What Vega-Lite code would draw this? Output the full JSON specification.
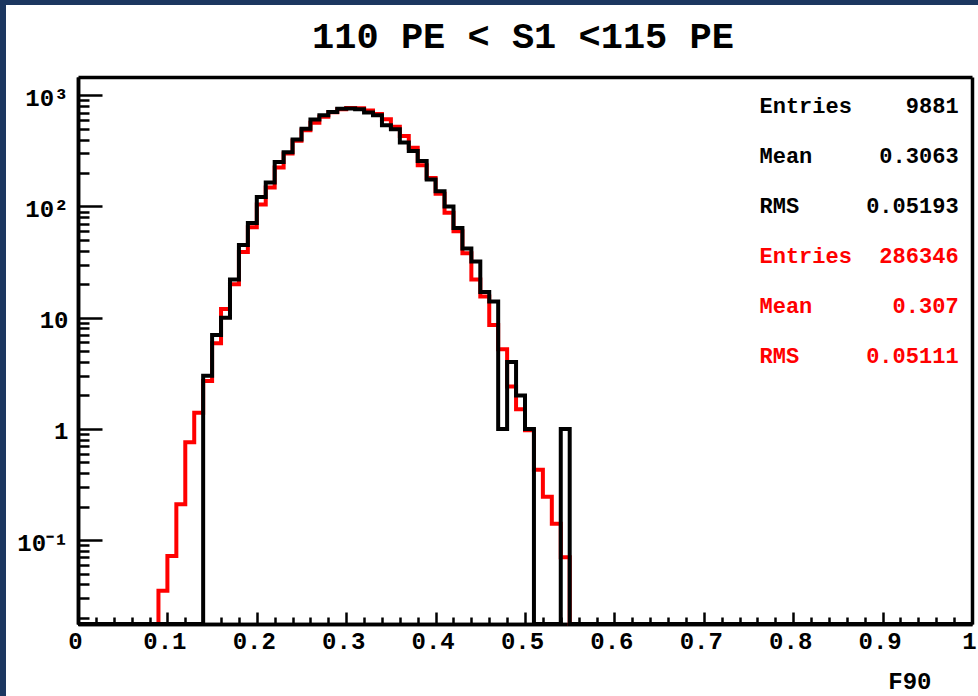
{
  "$schema": "https://vega.github.io/schema/vega-lite/v6.json",
  "width": 894,
  "height": 547,
  "autosize": {"type": "none"},
  "padding": {"left": 78, "top": 77, "right": 6, "bottom": 72},
  "background": "#1c3760",
  "config": {
    "view": {"fill": "white", "stroke": "white", "strokeWidth": 144},
    "font": "Liberation Mono"
  },
  "title": {
    "text": "110 PE < S1 <115 PE",
    "font": "Liberation Mono",
    "fontWeight": "bold",
    "fontSize": 37,
    "color": "black",
    "anchor": "middle",
    "frame": "group",
    "baseline": "alphabetic",
    "offset": -8,
    "dx": -2
  },
  "datasets": {
    "hist": [
      {"series": "ref", "f90": 0, "n": 0},
      {"series": "ref", "f90": 0.09, "n": 0.035},
      {"series": "ref", "f90": 0.10, "n": 0.072},
      {"series": "ref", "f90": 0.11, "n": 0.21},
      {"series": "ref", "f90": 0.12, "n": 0.76},
      {"series": "ref", "f90": 0.13, "n": 1.4},
      {"series": "ref", "f90": 0.14, "n": 2.7},
      {"series": "ref", "f90": 0.15, "n": 5.9},
      {"series": "ref", "f90": 0.16, "n": 12},
      {"series": "ref", "f90": 0.17, "n": 20},
      {"series": "ref", "f90": 0.18, "n": 39},
      {"series": "ref", "f90": 0.19, "n": 65},
      {"series": "ref", "f90": 0.20, "n": 104},
      {"series": "ref", "f90": 0.21, "n": 148},
      {"series": "ref", "f90": 0.22, "n": 224},
      {"series": "ref", "f90": 0.23, "n": 300},
      {"series": "ref", "f90": 0.24, "n": 390},
      {"series": "ref", "f90": 0.25, "n": 485},
      {"series": "ref", "f90": 0.26, "n": 565},
      {"series": "ref", "f90": 0.27, "n": 640},
      {"series": "ref", "f90": 0.28, "n": 705},
      {"series": "ref", "f90": 0.29, "n": 750},
      {"series": "ref", "f90": 0.30, "n": 768},
      {"series": "ref", "f90": 0.31, "n": 765},
      {"series": "ref", "f90": 0.32, "n": 730},
      {"series": "ref", "f90": 0.33, "n": 680},
      {"series": "ref", "f90": 0.34, "n": 610},
      {"series": "ref", "f90": 0.35, "n": 520},
      {"series": "ref", "f90": 0.36, "n": 430},
      {"series": "ref", "f90": 0.37, "n": 338},
      {"series": "ref", "f90": 0.38, "n": 235},
      {"series": "ref", "f90": 0.39, "n": 180},
      {"series": "ref", "f90": 0.40, "n": 130},
      {"series": "ref", "f90": 0.41, "n": 88},
      {"series": "ref", "f90": 0.42, "n": 60},
      {"series": "ref", "f90": 0.43, "n": 38},
      {"series": "ref", "f90": 0.44, "n": 22},
      {"series": "ref", "f90": 0.45, "n": 15.5},
      {"series": "ref", "f90": 0.46, "n": 8.6},
      {"series": "ref", "f90": 0.47, "n": 5.2},
      {"series": "ref", "f90": 0.48, "n": 2.4},
      {"series": "ref", "f90": 0.49, "n": 1.5},
      {"series": "ref", "f90": 0.50, "n": 0.97},
      {"series": "ref", "f90": 0.51, "n": 0.43},
      {"series": "ref", "f90": 0.52, "n": 0.245},
      {"series": "ref", "f90": 0.53, "n": 0.14},
      {"series": "ref", "f90": 0.54, "n": 0.07},
      {"series": "ref", "f90": 0.55, "n": 0},
      {"series": "ref", "f90": 1.0, "n": 0},
      {"series": "data", "f90": 0, "n": 0},
      {"series": "data", "f90": 0.14, "n": 3},
      {"series": "data", "f90": 0.15, "n": 7},
      {"series": "data", "f90": 0.16, "n": 10},
      {"series": "data", "f90": 0.17, "n": 22},
      {"series": "data", "f90": 0.18, "n": 45},
      {"series": "data", "f90": 0.19, "n": 71},
      {"series": "data", "f90": 0.20, "n": 122},
      {"series": "data", "f90": 0.21, "n": 164},
      {"series": "data", "f90": 0.22, "n": 251},
      {"series": "data", "f90": 0.23, "n": 308},
      {"series": "data", "f90": 0.24, "n": 401},
      {"series": "data", "f90": 0.25, "n": 500},
      {"series": "data", "f90": 0.26, "n": 605},
      {"series": "data", "f90": 0.27, "n": 660},
      {"series": "data", "f90": 0.28, "n": 708},
      {"series": "data", "f90": 0.29, "n": 757},
      {"series": "data", "f90": 0.30, "n": 760},
      {"series": "data", "f90": 0.31, "n": 750},
      {"series": "data", "f90": 0.32, "n": 700},
      {"series": "data", "f90": 0.33, "n": 660},
      {"series": "data", "f90": 0.34, "n": 537},
      {"series": "data", "f90": 0.35, "n": 494},
      {"series": "data", "f90": 0.36, "n": 377},
      {"series": "data", "f90": 0.37, "n": 315},
      {"series": "data", "f90": 0.38, "n": 256},
      {"series": "data", "f90": 0.39, "n": 175},
      {"series": "data", "f90": 0.40, "n": 137},
      {"series": "data", "f90": 0.41, "n": 100},
      {"series": "data", "f90": 0.42, "n": 64},
      {"series": "data", "f90": 0.43, "n": 42},
      {"series": "data", "f90": 0.44, "n": 32},
      {"series": "data", "f90": 0.45, "n": 17},
      {"series": "data", "f90": 0.46, "n": 14},
      {"series": "data", "f90": 0.47, "n": 1},
      {"series": "data", "f90": 0.48, "n": 4},
      {"series": "data", "f90": 0.49, "n": 2},
      {"series": "data", "f90": 0.50, "n": 1},
      {"series": "data", "f90": 0.51, "n": 0},
      {"series": "data", "f90": 0.52, "n": 0},
      {"series": "data", "f90": 0.53, "n": 0},
      {"series": "data", "f90": 0.54, "n": 1},
      {"series": "data", "f90": 0.55, "n": 0},
      {"series": "data", "f90": 1.0, "n": 0}
    ],
    "stats": [
      {"row": 1, "series": "data", "name": "Entries", "value": "9881"},
      {"row": 2, "series": "data", "name": "Mean", "value": "0.3063"},
      {"row": 3, "series": "data", "name": "RMS", "value": "0.05193"},
      {"row": 4, "series": "ref", "name": "Entries", "value": "286346"},
      {"row": 5, "series": "ref", "name": "Mean", "value": "0.307"},
      {"row": 6, "series": "ref", "name": "RMS", "value": "0.05111"}
    ]
  },
  "layer": [
    {
      "data": {"name": "hist"},
      "transform": [{"filter": "datum.series === 'ref'"}],
      "mark": {"type": "line", "interpolate": "step-after", "color": "#ff0000", "strokeWidth": 4, "strokeJoin": "miter", "invalid": "show"},
      "encoding": {
        "x": {
          "field": "f90", "type": "quantitative",
          "scale": {"domain": [0, 1], "nice": false, "zero": false},
          "axis": {
            "orient": "bottom",
            "values": [0, 0.1, 0.2, 0.3, 0.4, 0.5, 0.6, 0.7, 0.8, 0.9, 1],
            "format": "~g",
            "grid": false,
            "domainColor": "black", "domainWidth": 3.5,
            "tickColor": "black", "tickWidth": 2.5, "tickSize": -12,
            "labelFont": "Liberation Mono", "labelFontWeight": "bold", "labelFontSize": 24, "labelColor": "black",
            "labelFlush": false, "labelOverlap": false, "labelBound": false,
            "labelOffset": -3, "labelPadding": 17,
            "title": "F90",
            "titleFont": "Liberation Mono", "titleFontWeight": "bold", "titleFontSize": 24, "titleColor": "black",
            "titleAlign": "right", "titleBaseline": "alphabetic", "titleAnchor": null,
            "titleX": 853, "titleY": 64
          }
        },
        "y": {
          "field": "n", "type": "quantitative",
          "scale": {"type": "log", "domain": [0.0176, 1460], "nice": false, "clamp": true},
          "axis": {
            "orient": "left",
            "values": [0.1, 1, 10, 100, 1000],
            "labelExpr": "datum.value > 999 ? '10³' : datum.value > 99 ? '10²' : datum.value > 9 ? '10' : datum.value > 0.9 ? '1' : '10⁻¹'",
            "grid": false,
            "domainColor": "black", "domainWidth": 3.5,
            "tickColor": "black", "tickWidth": 2.5, "tickSize": -24,
            "labelFont": "Liberation Mono", "labelFontWeight": "bold", "labelFontSize": 24, "labelColor": "black",
            "labelAlign": "right", "labelBaseline": "middle",
            "labelFlush": false, "labelOverlap": false, "labelBound": false,
            "labelOffset": 3, "labelPadding": 34,
            "title": null
          }
        }
      }
    },
    {
      "data": {"name": "hist"},
      "transform": [{"filter": "datum.series === 'data'"}],
      "mark": {"type": "line", "interpolate": "step-after", "color": "#000000", "strokeWidth": 4, "strokeJoin": "miter", "invalid": "show"},
      "encoding": {
        "x": {
          "field": "f90", "type": "quantitative",
          "scale": {"domain": [0, 1], "nice": false, "zero": false},
          "axis": {
            "orient": "bottom",
            "values": [0.02,0.04,0.06,0.08,0.12,0.14,0.16,0.18,0.22,0.24,0.26,0.28,0.32,0.34,0.36,0.38,0.42,0.44,0.46,0.48,0.52,0.54,0.56,0.58,0.62,0.64,0.66,0.68,0.72,0.74,0.76,0.78,0.82,0.84,0.86,0.88,0.92,0.94,0.96,0.98],
            "labels": false, "grid": false,
            "domainColor": "black", "domainWidth": 3.5,
            "tickColor": "black", "tickWidth": 2.5, "tickSize": -7,
            "title": null
          }
        },
        "y": {
          "field": "n", "type": "quantitative",
          "scale": {"type": "log", "domain": [0.0176, 1460], "nice": false, "clamp": true},
          "axis": {
            "orient": "left",
            "values": [0.02,0.03,0.04,0.05,0.06,0.07,0.08,0.09,0.2,0.3,0.4,0.5,0.6,0.7,0.8,0.9,2,3,4,5,6,7,8,9,20,30,40,50,60,70,80,90,200,300,400,500,600,700,800,900],
            "labels": false, "grid": false,
            "domainColor": "black", "domainWidth": 3.5,
            "tickColor": "black", "tickWidth": 2.5, "tickSize": -11,
            "title": null
          }
        }
      }
    },
    {
      "data": {"name": "stats"},
      "mark": {"type": "text", "align": "left", "baseline": "middle", "font": "Liberation Mono", "fontWeight": "bold", "fontSize": 22},
      "encoding": {
        "x": {"datum": 0.7623, "type": "quantitative",
              "axis": {"orient": "top", "domainColor": "black", "domainWidth": 3.5, "ticks": false, "labels": false, "grid": false, "title": null}},
        "y": {"field": "row", "type": "quantitative",
              "scale": {"domain": [0.4215, 11.37], "reverse": true, "nice": false, "zero": false},
              "axis": {"orient": "right", "domainColor": "black", "domainWidth": 3.5, "ticks": false, "labels": false, "grid": false, "title": null}},
        "text": {"field": "name"},
        "color": {"field": "series", "type": "nominal", "scale": {"domain": ["data", "ref"], "range": ["#000000", "#ff0000"]}, "legend": null}
      }
    },
    {
      "data": {"name": "stats"},
      "mark": {"type": "text", "align": "right", "baseline": "middle", "font": "Liberation Mono", "fontWeight": "bold", "fontSize": 22},
      "encoding": {
        "x": {"datum": 0.985, "type": "quantitative", "axis": null},
        "y": {"field": "row", "type": "quantitative",
              "scale": {"domain": [0.4215, 11.37], "reverse": true, "nice": false, "zero": false},
              "axis": null},
        "text": {"field": "value"},
        "color": {"field": "series", "type": "nominal", "scale": {"domain": ["data", "ref"], "range": ["#000000", "#ff0000"]}, "legend": null}
      }
    }
  ],
  "resolve": {
    "scale": {"y": "independent"},
    "axis": {"x": "independent", "y": "independent"}
  }
}
